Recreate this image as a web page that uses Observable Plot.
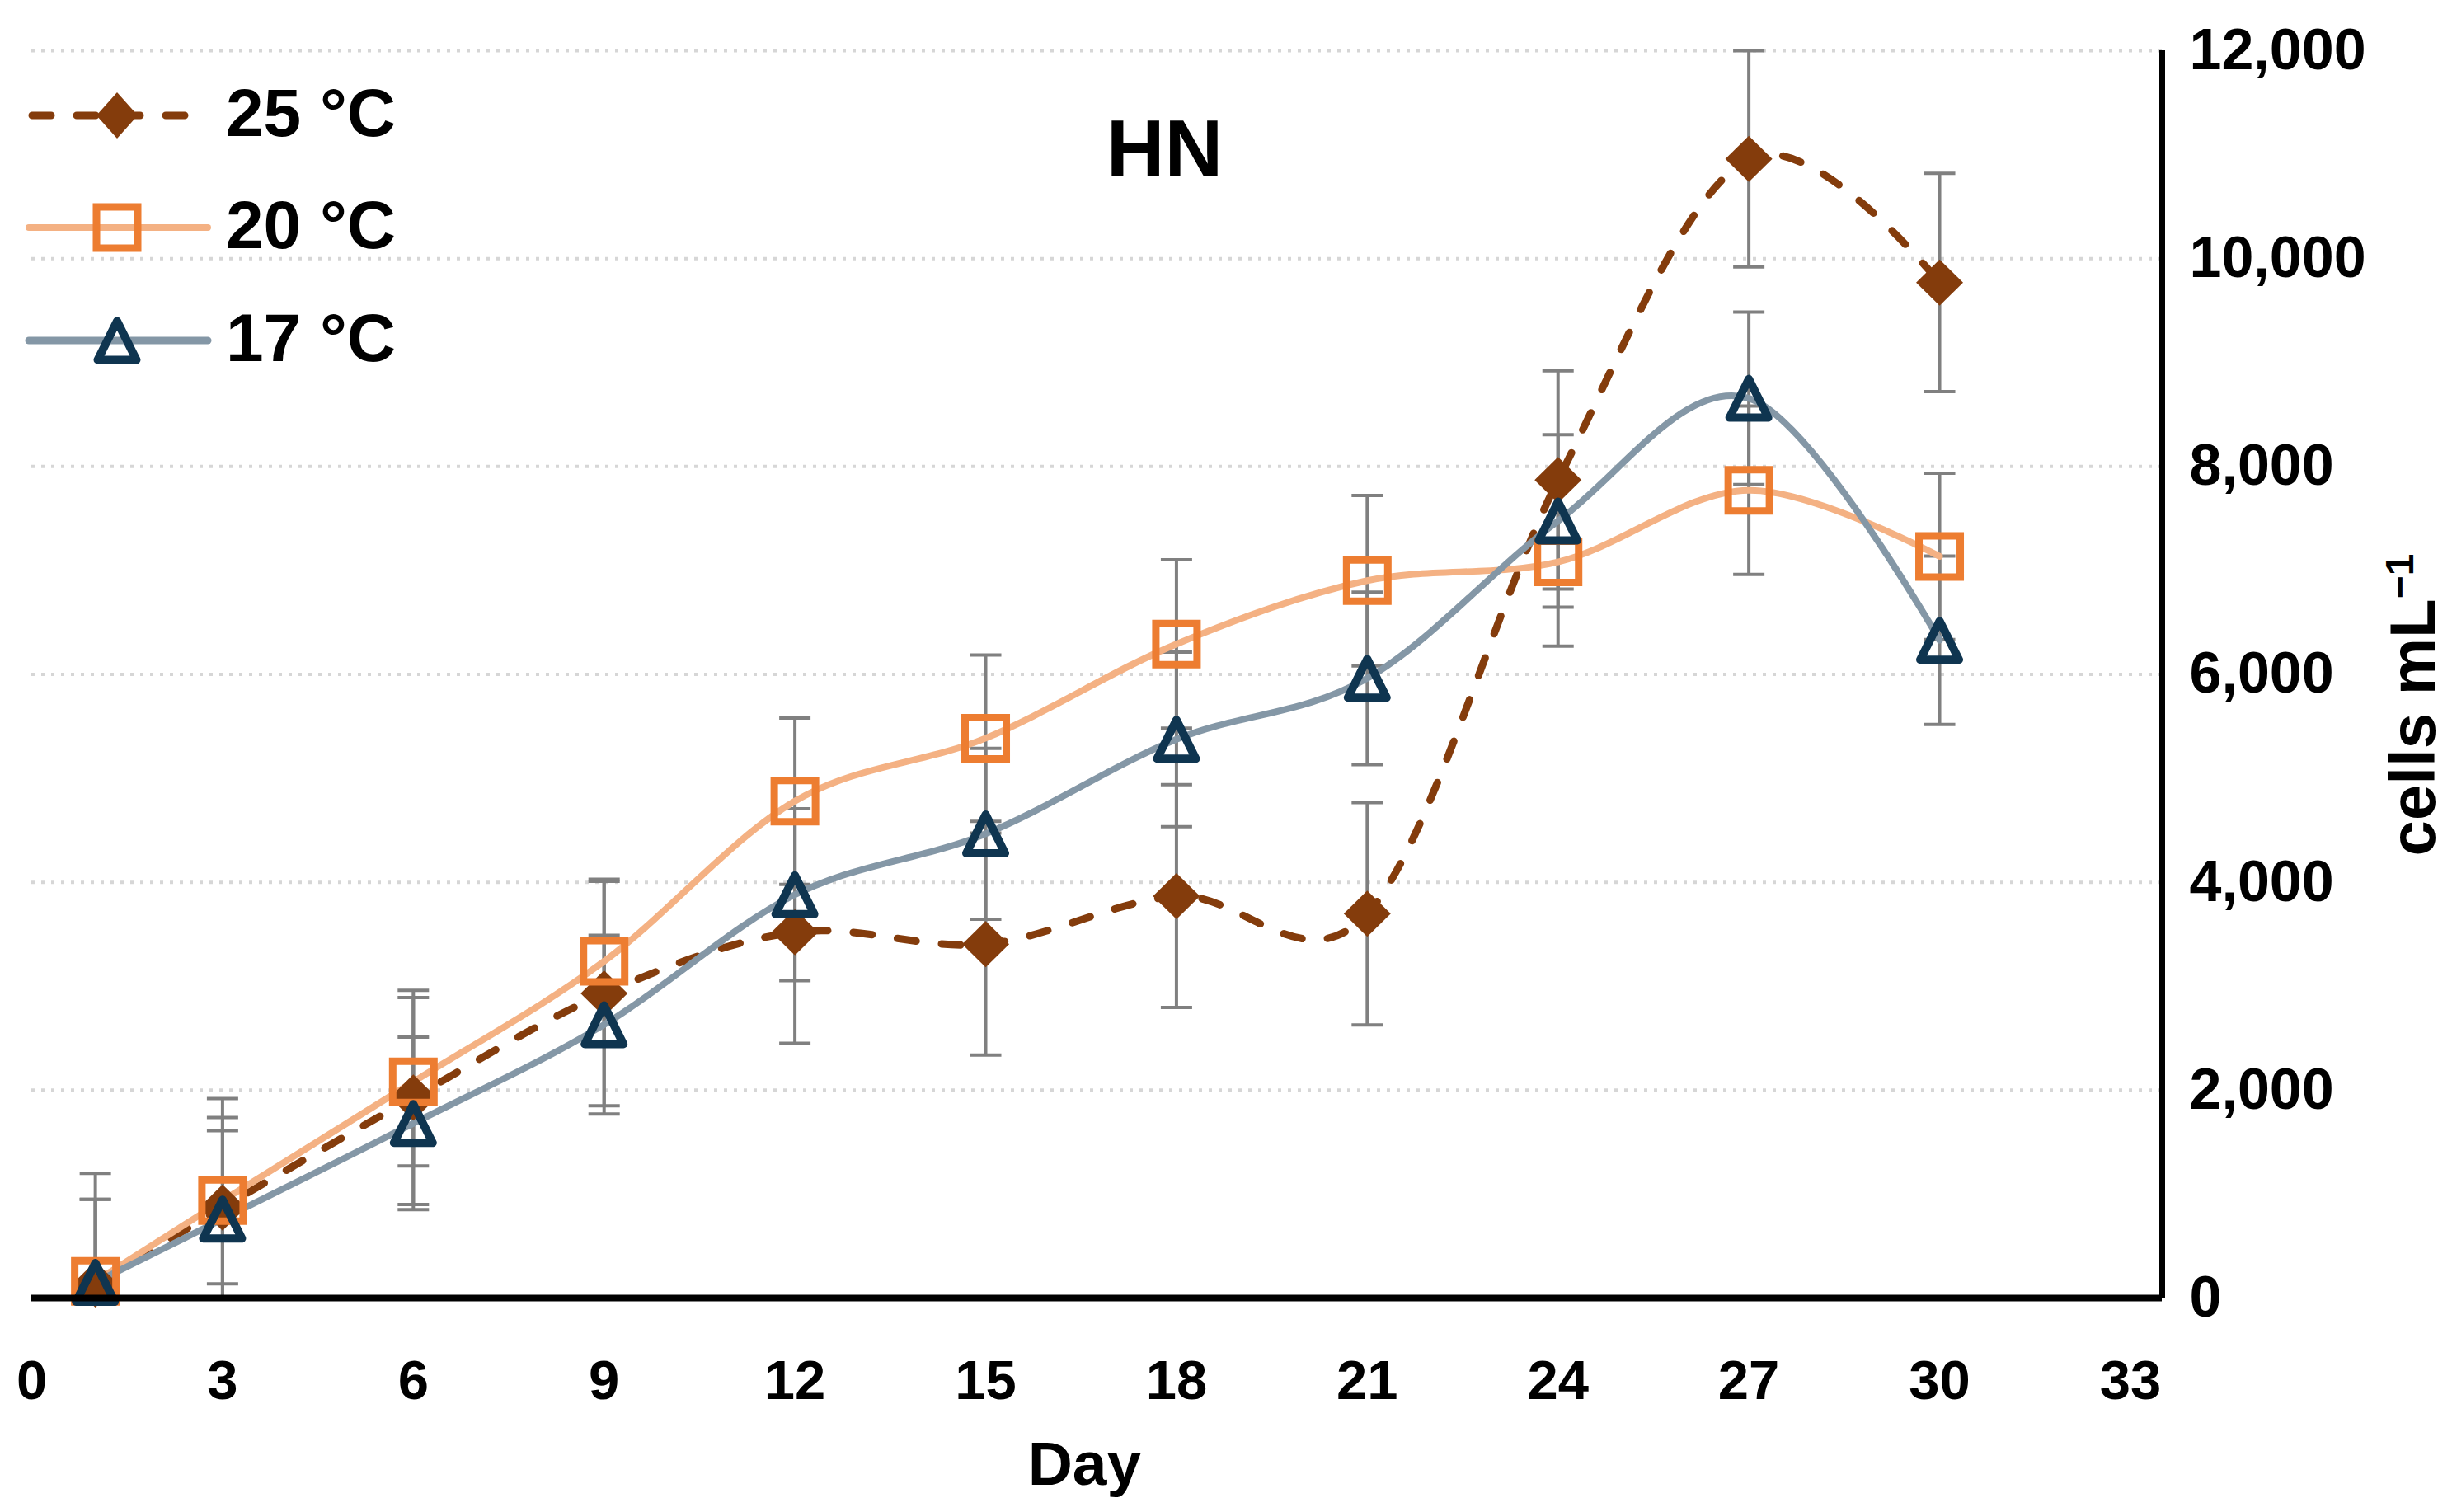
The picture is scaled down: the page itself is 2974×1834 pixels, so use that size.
<!DOCTYPE html>
<html>
<head>
<meta charset="utf-8">
<script src="https://cdn.jsdelivr.net/npm/d3@7"></script>
<script src="https://cdn.jsdelivr.net/npm/@observablehq/plot@0.6"></script>
<style>
  html, body { margin: 0; padding: 0; background: #ffffff; }
  #chart { width: 2974px; height: 1834px; }
</style>
</head>
<body>
<div id="chart"></div>
<script>
// ---- data ----
const days = [1, 3, 6, 9, 12, 15, 18, 21, 24, 27, 30];
const series = ["25 °C", "20 °C", "17 °C"];
const mean25 = [130, 870, 1930, 2930, 3520, 3405, 3867, 3697, 7870, 10960, 9770];
const err25  = [1070, 1050, 1030, 1080, 1070, 1068, 1072, 1070, 1050, 1040, 1050];
const mean20 = [160, 937, 2080, 3240, 4780, 5386, 6292, 6902, 7082, 7771, 7135];
const err20  = [790, 800, 810, 790, 800, 800, 810, 820, 810, 810, 800];
const mean17 = [150, 760, 1680, 2630, 3880, 4466, 5375, 5962, 7476, 8656, 6328];
const err17  = [800, 850, 830, 860, 827, 822, 840, 830, 830, 830, 810];
const xTicks = [0, 3, 6, 9, 12, 15, 18, 21, 24, 27, 30, 33];
const yTicks = [0, 2000, 4000, 6000, 8000, 10000, 12000];
const title = "HN";
const xLabel = "Day";
const yLabel = "cells mL";
const yLabelSup = "−1";

// ---- tidy table built from the arrays ----
const means = [mean25, mean20, mean17];
const errs = [err25, err20, err17];
const rows = [];
series.forEach((s, si) => days.forEach((d, i) => rows.push({series: s, day: d, value: means[si][i], err: errs[si][i]})));
const bySeries = s => rows.filter(r => r.series === s);

// ---- styles ----
const C25 = "#843C0C";
const C20line = "#F4B183", C20mark = "#ED7D31";
const C17line = "#8497A6", C17mark = "#0F3550";
const ERR = "#808080";

const capSymbol = { draw(ctx) { ctx.moveTo(-19, 0); ctx.lineTo(19, 0); } };
const triSymbol = { draw(ctx) { ctx.moveTo(0, -23.5); ctx.lineTo(23.5, 23.5); ctx.lineTo(-23.5, 23.5); ctx.closePath(); } };
const sqSymbol  = { draw(ctx) { ctx.rect(-25, -25, 50, 50); } };
const diaSymbol = { draw(ctx) { ctx.moveTo(0, -28); ctx.lineTo(28.5, 0); ctx.lineTo(0, 28); ctx.lineTo(-28.5, 0); ctx.closePath(); } };

const font = "'Liberation Sans', Arial, Helvetica, sans-serif";
const fmt = d3.format(",");

const chart = Plot.plot({
  width: 2974,
  height: 1834,
  marginLeft: 38,
  marginRight: 352,
  marginTop: 61,
  marginBottom: 260,
  x: {domain: [0, 33.5]},
  y: {domain: [0, 12000]},
  style: {fontFamily: font, fontWeight: "bold", background: "#ffffff", color: "#000000"},
  marks: [
    Plot.ruleY(yTicks, {stroke: "#D6D6D6", strokeWidth: 4, strokeDasharray: "4,8"}),
    // error bars
    Plot.ruleX(rows, {x: "day", y1: d => d.value - d.err, y2: d => d.value + d.err, stroke: ERR, strokeWidth: 4, clip: true}),
    Plot.dot(rows.filter(d => d.value + d.err <= 12000), {x: "day", y: d => d.value + d.err, symbol: capSymbol, r: 10, stroke: ERR, strokeWidth: 4, fill: "none"}),
    Plot.dot(rows.filter(d => d.value - d.err >= 0), {x: "day", y: d => d.value - d.err, symbol: capSymbol, r: 10, stroke: ERR, strokeWidth: 4, fill: "none"}),
    // lines
    Plot.line(bySeries("25 °C"), {x: "day", y: "value", curve: "cardinal", tension: 0, stroke: C25, strokeWidth: 9, strokeDasharray: "23,31", strokeLinecap: "round"}),
    Plot.line(bySeries("20 °C"), {x: "day", y: "value", curve: "cardinal", tension: 0, stroke: C20line, strokeWidth: 8}),
    Plot.line(bySeries("17 °C"), {x: "day", y: "value", curve: "cardinal", tension: 0, stroke: C17line, strokeWidth: 8}),
    // markers
    Plot.dot(bySeries("25 °C"), {x: "day", y: "value", symbol: diaSymbol, r: 10, fill: C25, stroke: "none"}),
    Plot.dot(bySeries("20 °C"), {x: "day", y: "value", symbol: sqSymbol, r: 10, fill: "none", stroke: C20mark, strokeWidth: 9}),
    Plot.dot(bySeries("17 °C"), {x: "day", y: "value", symbol: triSymbol, r: 10, fill: "none", stroke: C17mark, strokeWidth: 10, strokeLinejoin: "round"}),
    // axis lines
    Plot.ruleY([0], {stroke: "#000000", strokeWidth: 8}),
    Plot.ruleX([33.5], {stroke: "#000000", strokeWidth: 7}),
    // axes
    Plot.axisX({ticks: xTicks, tickSize: 0, tickPadding: 75, fontSize: 67, fontWeight: "bold", label: null}),
    Plot.axisY({anchor: "right", ticks: yTicks, tickSize: 0, tickPadding: 33, tickFormat: fmt, fontSize: 70, fontWeight: "bold", label: null}),
    // titles
    Plot.text([title], {frameAnchor: "top", lineAnchor: "middle", textAnchor: "middle", dx: 82, dy: 121, fontSize: 98, fontWeight: "bold", fill: "#000000"}),
    Plot.text([xLabel], {frameAnchor: "bottom", lineAnchor: "middle", textAnchor: "middle", dx: -15, dy: 202, fontSize: 75, fontWeight: "bold", fill: "#000000"}),
    Plot.text([yLabel], {frameAnchor: "right", lineAnchor: "middle", textAnchor: "middle", rotate: -90, dx: 306, dy: 37, fontSize: 78, fontWeight: "bold", fill: "#000000"})
  ]
});

document.getElementById("chart").appendChild(chart);

// superscript on the y label
d3.select(chart).selectAll("text").filter(function () { return this.textContent === yLabel; })
  .each(function () {
    const t = d3.select(this);
    t.append("tspan").attr("baseline-shift", "super").attr("font-size", "48").text(yLabelSup);
  });

// legend (inside the plot area, top-left)
const legendRows = [
  {label: series[0], y: 140, line: C25, lw: 9, dash: "23,31", x1: 35, x2: 243, sym: "diamond"},
  {label: series[1], y: 276, line: C20line, lw: 8, dash: null, x1: 35, x2: 252, sym: "square"},
  {label: series[2], y: 413, line: C17line, lw: 9, dash: null, x1: 35, x2: 252, sym: "triangle"}
];
const leg = d3.select(chart).append("g").attr("class", "legend");
legendRows.forEach(r => {
  const g = leg.append("g").attr("transform", `translate(0,${r.y})`);
  const ln = g.append("line").attr("x1", r.x1).attr("x2", r.x2).attr("y1", 0).attr("y2", 0)
    .attr("stroke", r.line).attr("stroke-width", r.lw).attr("stroke-linecap", "round");
  if (r.dash) ln.attr("stroke-dasharray", r.dash).attr("stroke-dashoffset", -4);
  const mx = 142;
  if (r.sym === "diamond") {
    g.append("path").attr("d", `M${mx},-28L${mx + 25},0L${mx},28L${mx - 25},0Z`).attr("fill", C25);
  } else if (r.sym === "square") {
    g.append("rect").attr("x", mx - 25).attr("y", -25).attr("width", 50).attr("height", 50)
      .attr("fill", "none").attr("stroke", C20mark).attr("stroke-width", 9);
  } else {
    g.append("path").attr("d", `M${mx},-23.5L${mx + 23.5},23.5L${mx - 23.5},23.5Z`)
      .attr("fill", "none").attr("stroke", C17mark).attr("stroke-width", 10).attr("stroke-linejoin", "round");
  }
  g.append("text").attr("x", 274).attr("y", 25).attr("font-size", 82).attr("font-weight", "bold")
    .attr("text-anchor", "start").attr("font-family", font).attr("fill", "#000000").text(r.label);
});
</script>
</body>
</html>
